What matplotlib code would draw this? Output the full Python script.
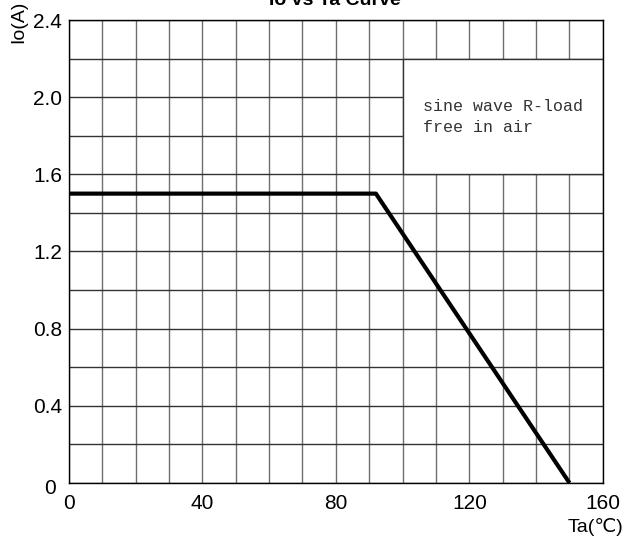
import numpy as np
import matplotlib
matplotlib.use("Agg")
import matplotlib.pyplot as plt
from matplotlib.patches import Rectangle
import matplotlib.transforms as mtransforms

# ── data ─────────────────────────────────────────────────────────────────────
ta = [0, 92, 150]          # ambient temperature (°C)
io = [1.5, 1.5, 0.0]       # output current (A)
x_major = [0, 40, 80, 120, 160]
y_major = [0, 0.4, 0.8, 1.2, 1.6, 2.0, 2.4]
note = "sine wave R-load\nfree in air"

plt.rcParams["font.family"] = ["Liberation Sans", "DejaVu Sans"]

fig = plt.figure(figsize=(6.26, 5.42), dpi=100)
ax = fig.add_axes([0.110, 0.109, 0.853, 0.854])

ax.set_xlim(0, 160)
ax.set_ylim(0, 2.4)
ax.set_xticks(x_major)
ax.set_yticks(y_major)
ax.set_xticklabels([str(v) for v in x_major])
ax.set_yticklabels(["0"] + [f"{v:.1f}" for v in y_major[1:]])
ax.set_xticks(np.arange(0, 161, 10), minor=True)
ax.set_yticks(np.arange(0, 2.41, 0.2), minor=True)
ax.tick_params(which="both", length=0, labelsize=15)
ax.tick_params(axis="x", pad=8)
ax.tick_params(axis="y", pad=5)

ax.set_axisbelow(True)
ax.grid(axis="x", which="both", color="#6e6e6e", lw=1.0)
ax.grid(axis="y", which="both", color="#333333", lw=1.0)
for s in ax.spines.values():
    s.set_color("black")
    s.set_linewidth(1.0)

# shift y "0" label slightly down/left like the reference
lab0 = ax.get_yticklabels()[0]
lab0.set_transform(lab0.get_transform() +
                   mtransforms.ScaledTranslation(-6 / 100, -4 / 100, fig.dpi_scale_trans))

# note box covering part of the grid
ax.add_patch(Rectangle((100, 1.6), 60, 0.6, facecolor="white",
                       edgecolor="#333333", lw=1.0, zorder=1.5))
ax.text(0.663, 0.83, note, transform=ax.transAxes, family="Liberation Mono",
        fontsize=12, color="#333333", va="top", ha="left", linespacing=1.55,
        zorder=2)

ax.plot(ta, io, color="black", lw=3.0, solid_capstyle="butt", zorder=3)

fig.text(19 / 626, 1 - 22 / 542, "Io(A)", rotation=90, fontsize=14,
         ha="center", va="center")
fig.text(623 / 626, 1 - 527 / 542, "Ta(\u2103)", fontsize=14,
         ha="right", va="center")
fig.text(335 / 626, 1 - 5 / 542, "Io vs Ta Curve", fontsize=14,
         fontweight="bold", ha="center", va="baseline")

fig.savefig("out.png", dpi=100)
